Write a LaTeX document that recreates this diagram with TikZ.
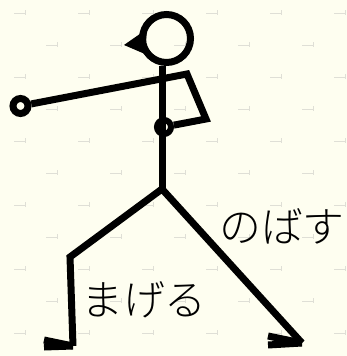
\documentclass[tikz,border=0pt]{standalone}
\usepackage{fontspec}
\newfontfamily\jpfont{Noto Sans CJK JP}[UprightFont={* Light}]
\usetikzlibrary{positioning}
\definecolor{paper}{HTML}{FEFEF0}
\definecolor{speck}{HTML}{DFDFD6}

\begin{document}
\begin{tikzpicture}[
  x=1bp, y=-1bp,
  limb/.style={line width=7bp, line join=miter},
  joint/.style 2 args={draw, circle, line width=#2, inner sep=0pt, minimum size=#1},
  lbl/.style={font=\jpfont\fontsize{42}{44}\selectfont, inner sep=0pt}
]
\fill[paper] (0,0) rectangle (347,356);
\useasboundingbox (0,0) rectangle (347,356);
\foreach \r in {0,...,10} {
  \pgfmathsetmacro{\off}{mod(\r,2)*32}
  \foreach \c in {0,...,5} {
    \draw[speck, line width=1bp] (14+\off+64*\c, 13+32*\r) -- ++(12,0)
      (25+\off+64*\c, 10+32*\r) -- ++(0,5);
  }
}

\node[joint={48bp}{7bp}] (head) at (166.5,38.5) {};
\node[joint={15bp}{7bp}] (hand) at (20.5,106) {};
\node[joint={14bp}{6bp}] (grip) at (164,127) {};
\coordinate (shoulder) at (187,74);
\coordinate (elbow) at (206,119);
\coordinate (hip) at (162,189);
\coordinate (kneeL) at (70,257);
\coordinate (heelL) at (73,346);
\coordinate (toeL) at (44,340);
\coordinate (soleL) at (44,347);
\coordinate (footR) at (302,343);
\coordinate (toeR) at (268,336);
\coordinate (soleR) at (268,345);

\fill (124,45) -- (147,29) -- (145,54) -- cycle;
\draw[limb] (head.south -| hip) -- (hip);
\draw[limb] (hand) -- (shoulder) -- (elbow) -- (grip);
\draw[limb] (heelL) -- (kneeL) -- (hip) -- (footR);
\draw[limb] (toeL) -- (heelL);
\draw[limb] (soleL) -- (heelL);
\draw[limb] (toeR) -- (footR);
\draw[limb] (soleR) -- (footR);

\node[lbl] (stretch) at (282,226) {のばす};
\node[lbl] (bend) at (144,300) {まげる};
\end{tikzpicture}
\end{document}
